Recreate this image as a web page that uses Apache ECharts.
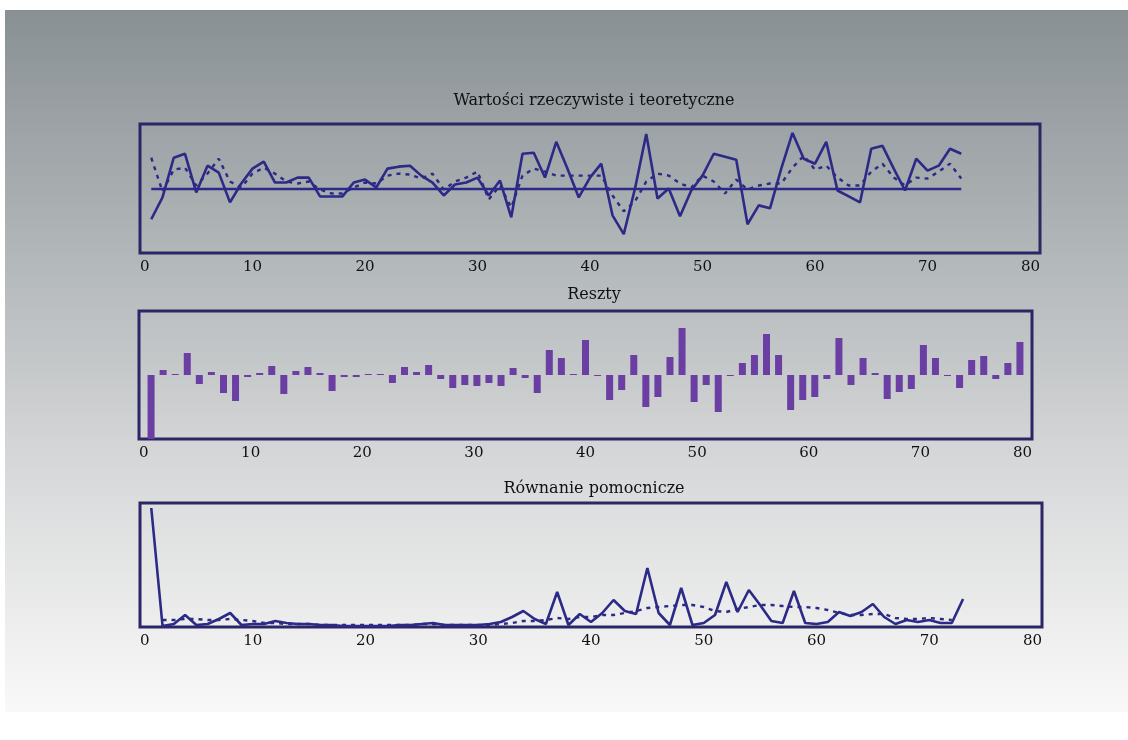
<!DOCTYPE html>
<html>
<head>
<meta charset="utf-8">
<title>Wartości rzeczywiste i teoretyczne</title>
<script src="https://cdn.jsdelivr.net/npm/echarts@6/dist/echarts.min.js"></script>
<style>
  html, body { margin: 0; padding: 0; background: #fff; }
  #chart { width: 1128px; height: 740px; }
</style>
</head>
<body>
<div id="chart"></div>
<script>
// tick labels on every x axis
const xTicks = [0, 10, 20, 30, 40, 50, 60, 70, 80];

// panel 1: actual (solid) and fitted (dashed), observations 1..73
const actual = [34, 56, 96, 100, 61, 88, 81, 51, 70, 85, 92, 71, 71, 76, 76, 57, 57, 57, 71, 74,
  66, 85, 87, 88, 78, 71, 58, 69, 71, 76, 58, 73, 36, 100, 101, 76, 112, 85, 56, 76,
  90, 38, 19, 65, 120, 55, 65, 37, 63, 78, 100, 97, 94, 29, 48, 45, 85, 121, 95, 90,
  112, 63, 57, 51, 105, 108, 85, 63, 95, 83, 88, 105, 100];
const fitted = [96, 62, 84, 86, 68, 80, 95, 72, 66, 80, 86, 80, 72, 70, 72, 64, 60, 60, 66, 71,
  70, 78, 80, 79, 75, 80, 64, 72, 76, 82, 54, 68, 46, 78, 85, 82, 78, 78, 78, 78,
  78, 58, 42, 52, 72, 80, 78, 70, 66, 78, 72, 60, 74, 64, 68, 70, 70, 86, 98, 84,
  88, 76, 68, 68, 82, 90, 76, 68, 76, 75, 82, 90, 75];
const meanValue = 65;

// panel 2: residuals
const residuals = [-64, 5, 1, 22, -9, 3, -18, -26, -2, 2, 9, -19, 4, 8, 2, -16, -2, -2, 1, 1,
  -8, 8, 3, 10, -4, -13, -10, -11, -8, -11, 7, -3, -18, 25, 17, 1, 35, -1, -25, -15,
  20, -32, -22, 18, 47, -27, -10, -37, -1, 12, 20, 41, 20, -35, -25, -22, -4, 37, -10, 17,
  2, -24, -17, -14, 30, 17, -1, -13, 15, 19, -4, 12, 33];

// panel 3: auxiliary equation, actual (solid) and fitted (dashed)
const auxActual = [119, 1, 3, 12, 2, 3, 8, 14, 2, 3, 3, 6, 4, 3, 3, 2, 2, 1, 1, 1,
  1, 1, 2, 2, 3, 4, 2, 2, 2, 2, 3, 5, 10, 16, 8, 3, 35, 2, 13, 5,
  14, 27, 16, 13, 59, 14, 2, 39, 2, 4, 12, 45, 15, 37, 22, 6, 4, 36, 4, 3,
  5, 15, 11, 15, 23, 10, 3, 7, 5, 7, 4, 4, 28];
const auxFitted = [null, 7, 7, 8, 8, 7, 7, 8, 7, 6, 4, 4, 3, 3, 3, 2, 2, 2, 2, 2,
  2, 2, 2, 2, 3, 3, 2, 2, 2, 2, 2, 3, 4, 6, 6, 7, 9, 8, 10, 10,
  12, 12, 14, 16, 19, 20, 21, 22, 22, 20, 16, 15, 18, 20, 22, 22, 21, 20, 20, 19,
  17, 14, 12, 12, 13, 13, 9, 8, 8, 9, 8, 7, null];

const titles = ['Wartości rzeczywiste i teoretyczne', 'Reszty', 'Równanie pomocnicze'];

const pairs = arr => arr.map((v, i) => [i + 1, v]);

const lineColor = '#2c2a86';
const boxColor = '#2b2766';
const barColor = '#6a3ea2';
const font = 'DejaVu Serif';

const labelStyle = {
  fontFamily: font, fontSize: 15, color: '#111', margin: 7,
  alignMinLabel: 'left', alignMaxLabel: 'right'
};

function xAxisFor(grid) {
  return {
    type: 'value', gridIndex: grid,
    min: xTicks[0], max: xTicks[xTicks.length - 1], interval: xTicks[1] - xTicks[0],
    axisLine: { show: false }, axisTick: { show: false }, splitLine: { show: false },
    axisLabel: labelStyle
  };
}
function yAxisFor(grid, min, max) {
  return {
    type: 'value', gridIndex: grid, min: min, max: max,
    axisLine: { show: false }, axisTick: { show: false },
    splitLine: { show: false }, axisLabel: { show: false }
  };
}

const chart = echarts.init(document.getElementById('chart'));
chart.setOption({
  animation: false,
  backgroundColor: '#ffffff',
  graphic: [{
    type: 'rect', z: -10, silent: true,
    shape: { x: 5, y: 10, width: 1123, height: 702 },
    style: {
      fill: new echarts.graphic.LinearGradient(0, 0, 0, 1, [
        { offset: 0, color: '#899094' },
        { offset: 0.35, color: '#b2b7b9' },
        { offset: 0.65, color: '#d7d8d9' },
        { offset: 1, color: '#f9f9f9' }
      ])
    }
  }],
  title: titles.map((t, i) => ({
    text: t, left: 589, top: [88, 282, 476][i], textAlign: 'center',
    textStyle: { fontFamily: font, fontSize: 16, fontWeight: 'normal', color: '#111' }
  })),
  grid: [
    { left: 140, top: 124, width: 900, height: 129, show: true, borderColor: boxColor, borderWidth: 3, backgroundColor: 'transparent' },
    { left: 139, top: 311, width: 893, height: 128, show: true, borderColor: boxColor, borderWidth: 3, backgroundColor: 'transparent' },
    { left: 140, top: 503, width: 902, height: 124, show: true, borderColor: boxColor, borderWidth: 3, backgroundColor: 'transparent' }
  ],
  xAxis: [
    xAxisFor(0),
    xAxisFor(1),
    { type: 'value', gridIndex: 1, position: 'top', min: 0, max: 74, show: false },
    xAxisFor(2)
  ],
  yAxis: [
    yAxisFor(0, 0, 130),
    yAxisFor(1, -64, 64),
    yAxisFor(2, 0, 124)
  ],
  series: [
    {
      type: 'line', xAxisIndex: 0, yAxisIndex: 0, data: pairs(fitted),
      showSymbol: false, lineStyle: { color: lineColor, width: 2.4, type: [4, 5] },
      markLine: {
        silent: true, symbol: 'none', label: { show: false },
        lineStyle: { color: lineColor, width: 2.4, type: 'solid' },
        data: [[{ coord: [1, meanValue] }, { coord: [actual.length, meanValue] }]]
      }
    },
    {
      type: 'line', xAxisIndex: 0, yAxisIndex: 0, data: pairs(actual),
      showSymbol: false, lineStyle: { color: lineColor, width: 2.6 }
    },
    {
      type: 'bar', xAxisIndex: 2, yAxisIndex: 1, data: pairs(residuals),
      barWidth: 7, itemStyle: { color: barColor }
    },
    {
      type: 'line', xAxisIndex: 3, yAxisIndex: 2, data: pairs(auxFitted),
      showSymbol: false, connectNulls: false, lineStyle: { color: lineColor, width: 2.4, type: [4, 5] }
    },
    {
      type: 'line', xAxisIndex: 3, yAxisIndex: 2, data: pairs(auxActual),
      showSymbol: false, lineStyle: { color: lineColor, width: 2.6 }
    }
  ]
});
</script>
</body>
</html>
